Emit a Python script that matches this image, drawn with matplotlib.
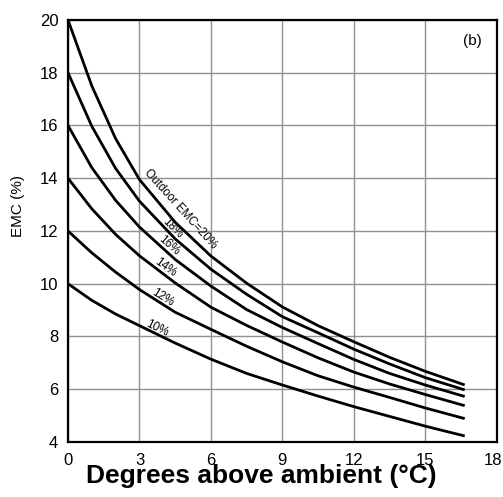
import matplotlib
matplotlib.use("Agg")
import matplotlib.pyplot as plt
import matplotlib.transforms as mtransforms

plt.rcParams['font.family'] = ['Liberation Sans', 'DejaVu Sans']

# degrees above ambient where the curves were read
dT = [0, 1, 2, 3, 4.5, 6, 7.5, 9, 10.5, 12, 13.5, 15, 16.6]

# EMC (%), outdoor EMC 20 .. 10 %
emc20 = [20, 17.5, 15.5, 13.95, 12.33, 11.05, 10.02, 9.12, 8.41, 7.80, 7.21, 6.68, 6.18]
emc18 = [18, 15.97, 14.37, 13.13, 11.70, 10.55, 9.60, 8.75, 8.14, 7.52, 6.96, 6.44, 5.99]
emc16 = [16, 14.40, 13.16, 12.15, 10.92, 9.91, 9.02, 8.34, 7.73, 7.13, 6.60, 6.16, 5.74]
emc14 = [14, 12.84, 11.87, 11.06, 10.03, 9.11, 8.42, 7.79, 7.19, 6.65, 6.20, 5.80, 5.39]
emc12 = [12, 11.17, 10.44, 9.78, 8.92, 8.27, 7.63, 7.04, 6.51, 6.08, 5.69, 5.29, 4.90]
emc10 = [10, 9.37, 8.85, 8.41, 7.75, 7.14, 6.60, 6.16, 5.74, 5.34, 4.97, 4.60, 4.24]

labels = ['Outdoor EMC=20%', '18%', '16%', '14%', '12%', '10%']
label_x = [4.74, 4.38, 4.25, 4.09, 3.96, 3.75]
label_y = [12.83, 12.1, 11.46, 10.62, 9.49, 8.31]
label_rot = [-48, -45, -41, -36, -32, -26]

xticks = [0, 3, 6, 9, 12, 15, 18]
yticks = [4, 6, 8, 10, 12, 14, 16, 18, 20]

fig = plt.figure(figsize=(5.03, 4.97), dpi=100)
ax = fig.add_axes([0.1352, 0.1107, 0.8523, 0.8491])

for ys in [emc20, emc18, emc16, emc14, emc12, emc10]:
    ax.plot(dT, ys, color='black', lw=2, zorder=3)

for txt, lx, ly, rot in zip(labels, label_x, label_y, label_rot):
    ax.text(lx, ly, txt, rotation=rot, ha='center', va='center', fontsize=8.5,
            rotation_mode='anchor', zorder=4)

ax.text(0.944, 0.95, '(b)', transform=ax.transAxes, ha='center', va='center', fontsize=11)

ax.set_xlim(0, 18)
ax.set_ylim(4, 20)
ax.set_xticks(xticks)
ax.set_yticks(yticks)
ax.tick_params(length=0, labelsize=12)
ax.tick_params(axis='y', pad=7)
ax.tick_params(axis='x', pad=8)
ax.grid(True, color='#909090', lw=1)
ax.set_axisbelow(True)
for s in ax.spines.values():
    s.set_linewidth(1.6)
    s.set_color('black')

# nudge the last x tick label inside the figure, like the original
fig.canvas.draw()
last = ax.get_xticklabels()[-1]
last.set_transform(last.get_transform() + mtransforms.ScaledTranslation(-4 / 100, 0, fig.dpi_scale_trans))

fig.text(0.519, 0.028, 'Degrees above ambient (°C)', ha='center', va='baseline',
         fontsize=19, fontweight='bold')
fig.text(0.035, 0.5855, 'EMC (%)', rotation=90, ha='center', va='center', fontsize=11)

fig.savefig('out.png', dpi=100)
